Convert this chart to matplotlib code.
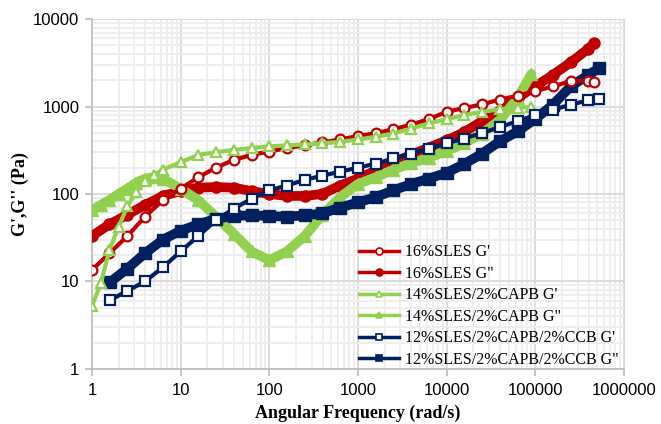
import numpy as np
import matplotlib.pyplot as plt
from matplotlib.ticker import LogLocator, FixedLocator, FixedFormatter, NullFormatter

# angular frequency points (rad/s)
w_red = [1, 1.58, 2.51, 3.98, 6.31, 10, 15.8, 25.1, 39.8, 63.1, 100, 158, 251, 398, 631,
         1000, 1580, 2510, 3980, 6310, 1e4, 1.58e4, 2.51e4, 3.98e4, 6.31e4, 1e5, 1.58e5,
         2.51e5, 3.98e5, 4.6e5]
sles_gp = [13.5, 21, 33, 55, 85, 115, 155, 200, 245, 280, 305, 335, 360, 390, 420,
           460, 495, 550, 620, 720, 870, 960, 1060, 1200, 1330, 1500, 1700,
           1950, 1980, 1900]
sles_gpp = [33, 45, 58, 75, 95, 108, 118, 120, 118, 108, 100, 95, 95, 100, 125,
            150, 185, 230, 280, 340, 410, 510, 680, 900, 1250, 1700, 2300,
            3200, 4600, 5300]

w_green = [1, 1.26, 1.58, 2, 2.51, 3.16, 3.98, 5, 6.31, 10, 15.8, 25.1, 39.8, 63.1, 100,
           158, 251, 398, 631, 1000, 1580, 2510, 3980, 6310, 1e4, 1.58e4, 2.51e4,
           3.98e4, 6.31e4, 9e4]
capb_gp = [5.2, 9.5, 23, 42, 72, 105, 140, 165, 190, 230, 280, 300, 320, 335, 350,
           360, 368, 380, 395, 420, 450, 490, 560, 640, 720, 800, 870,
           930, 970, 990]
capb_gpp = [65, 75, 85, 100, 115, 135, 150, 155, 150, 115, 85, 55, 35, 22, 17.5,
            22, 33, 58, 92, 130, 155, 190, 225, 260, 310, 380, 490,
            700, 1250, 2350]

w_blue = [1.6, 2.51, 3.98, 6.31, 10, 15.8, 25.1, 39.8, 63.1, 100, 158, 251, 398, 631,
          1000, 1580, 2510, 3980, 6310, 1e4, 1.58e4, 2.51e4, 3.98e4, 6.31e4, 1e5,
          1.58e5, 2.51e5, 3.98e5, 5.2e5]
ccb_gp = [6.1, 7.8, 10, 14.5, 22, 33, 50, 68, 88, 110, 125, 145, 162, 180,
          200, 222, 255, 290, 330, 380, 430, 500, 580, 680, 800,
          920, 1050, 1180, 1230]
ccb_gpp = [9.8, 14, 21, 30, 38, 45, 52, 56, 57, 56, 55, 57, 60, 70,
           80, 92, 110, 130, 150, 175, 220, 290, 400, 520, 720,
           1050, 1700, 2300, 2750]

labels = ["16%SLES G'", '16%SLES G"', "14%SLES/2%CAPB G'", '14%SLES/2%CAPB G"',
          "12%SLES/2%CAPB/2%CCB G'", '12%SLES/2%CAPB/2%CCB G"']

red = '#C00000'
green = '#92D050'
navy = '#002060'

fig = plt.figure(figsize=(6.61, 4.24), dpi=100)
ax = fig.add_axes([0.139, 0.130, 0.805, 0.825])

series = [
    (w_red, sles_gp, red, 'o', False),
    (w_red, sles_gpp, red, 'o', True),
    (w_green, capb_gp, green, '^', False),
    (w_green, capb_gpp, green, '^', True),
    (w_blue, ccb_gp, navy, 's', False),
    (w_blue, ccb_gpp, navy, 's', True),
]

for (x, y, c, m, filled), lab in zip(series, labels):
    if filled:
        ax.plot(x, y, color=c, lw=7, solid_capstyle='round', zorder=3)
        ax.plot(x, y, color=c, lw=0, marker=m, ms=8, zorder=3)
    else:
        ax.plot(x, y, color=c, lw=3, marker=m, ms=7, mfc='white', mec=c, mew=1.6,
                zorder=4)
    # legend proxy
    ax.plot([], [], color=c, lw=2.5, marker=m, ms=5,
            mfc=(c if filled else 'white'), mec=c, mew=1.2, label=lab)

ax.set_xscale('log')
ax.set_yscale('log')
ax.set_xlim(1, 1e6)
ax.set_ylim(1, 1e4)

ax.xaxis.set_major_locator(FixedLocator([1, 10, 100, 1000, 1e4, 1e5, 1e6]))
ax.xaxis.set_major_formatter(FixedFormatter(['1', '10', '100', '1000', '10000', '100000', '1000000']))
ax.yaxis.set_major_locator(FixedLocator([1, 10, 100, 1000, 1e4]))
ax.yaxis.set_major_formatter(FixedFormatter(['1', '10', '100', '1000', '10000']))
ax.xaxis.set_minor_locator(LogLocator(base=10, subs=np.arange(2, 10), numticks=20))
ax.yaxis.set_minor_locator(LogLocator(base=10, subs=np.arange(2, 10), numticks=20))
ax.xaxis.set_minor_formatter(NullFormatter())
ax.yaxis.set_minor_formatter(NullFormatter())

ax.grid(which='major', color='#D9D9D9', lw=1.3, zorder=0)
ax.grid(which='minor', color='#EDEDED', lw=1.3, zorder=0)
ax.set_axisbelow(True)

for s in ['top', 'right']:
    ax.spines[s].set_color('#D9D9D9')
for s in ['left', 'bottom']:
    ax.spines[s].set_color('#BFBFBF')
    ax.spines[s].set_linewidth(1.3)
ax.tick_params(which='major', length=5, color='#BFBFBF', width=1.3, direction='out')
ax.tick_params(which='minor', length=0)
ax.tick_params(axis='x', pad=5)
ax.tick_params(axis='y', pad=4)
for t in ax.get_xticklabels() + ax.get_yticklabels():
    t.set_fontfamily('Liberation Sans')
    t.set_fontsize(12)

ax.set_xlabel('Angular Frequency (rad/s)', family='Liberation Serif', weight='bold',
              fontsize=13, labelpad=5)
ax.set_ylabel("G',G'' (Pa)", family='Liberation Serif', weight='bold', fontsize=13,
              labelpad=3)

leg = ax.legend(loc='upper left', bbox_to_anchor=(0.49, 0.374), frameon=False,
                prop={'family': 'Liberation Serif', 'size': 11.5}, handlelength=2.5,
                handletextpad=0.35, labelspacing=0.34, borderaxespad=0)

fig.savefig('out.png', dpi=100)
